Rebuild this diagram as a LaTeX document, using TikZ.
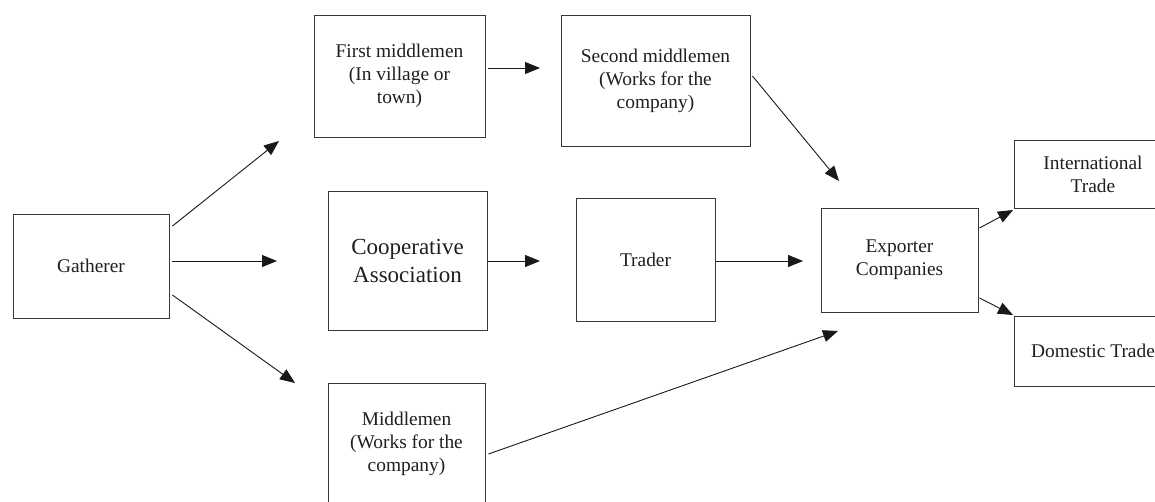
\documentclass[tikz,border=0pt]{standalone}
\usepackage{fontspec}
\setmainfont{Liberation Serif}
\usetikzlibrary{arrows.meta}
\begin{document}
\begin{tikzpicture}[x=1pt,y=-1pt,
  box/.style={draw=black!78,line width=0.9pt,align=center,text=black!88,
    font=\fontsize{19.4}{23}\selectfont,inner sep=0pt},
  bigbox/.style={box,font=\fontsize{23}{28}\selectfont},
  arr/.style={draw=black!90,line width=0.9pt,-{Triangle[length=15pt,width=12pt]}}]
\useasboundingbox (0,0) rectangle (1155,501);
\clip (0,0) rectangle (1155,501);
\fill[white] (0,0) rectangle (1155,501);
% boxes
\node[box,minimum width=156pt,minimum height=104pt] (gath) at (91,266) {Gatherer};
\node[box,minimum width=171pt,minimum height=122pt] (fm) at (399.5,76) {First middlemen\\(In village or\\town)};
\node[box,minimum width=189pt,minimum height=131pt] (sm) at (655.5,80.5) {Second middlemen\\(Works for the\\company)};
\node[bigbox,minimum width=159pt,minimum height=139pt] (coop) at (407.5,260.5) {Cooperative\\Association};
\node[box,minimum width=139pt,minimum height=123pt] (trader) at (645.5,259.5) {Trader};
\node[box,minimum width=157pt,minimum height=122pt] (mid) at (406.5,444) {Middlemen\\(Works for the\\company)};
\node[box,minimum width=157pt,minimum height=104pt] (exp) at (899.5,260) {Exporter\\Companies};
\node[box,minimum width=158pt,minimum height=68pt] (intl) at (1093,174) {International\\Trade};
\node[box,minimum width=158pt,minimum height=70pt] (dom) at (1093,351) {Domestic Trade};
% arrow tips
\coordinate (t1) at (279,141);
\coordinate (t2) at (277,261);
\coordinate (t3) at (295,383);
\coordinate (t4) at (540,68);
\coordinate (t5) at (540,261);
\coordinate (t6) at (839,181);
\coordinate (t7) at (803,261);
\coordinate (t8) at (838,331);
\coordinate (t9) at (1013,210);
\coordinate (t10) at (1013,315);
% connectors
\draw[arr] ([xshift=3pt,yshift=40pt]gath.east) -- (t1);
\draw[arr] ([xshift=3pt,yshift=5pt]gath.east) -- (t2);
\draw[arr] ([xshift=3pt,yshift=-29pt]gath.east) -- (t3);
\draw[arr] ([xshift=3pt,yshift=8pt]fm.east) -- (t4);
\draw[arr] ([xshift=1pt,yshift=-0.5pt]coop.east) -- (t5);
\draw[arr] ([xshift=2pt,yshift=4.5pt]sm.east) -- (t6);
\draw[arr] ([xshift=1pt,yshift=-1.5pt]trader.east) -- (t7);
\draw[arr] ([xshift=3pt,yshift=-10pt]mid.east) -- (t8);
\draw[arr] ([xshift=1pt,yshift=32pt]exp.east) -- (t9);
\draw[arr] ([xshift=1pt,yshift=-38pt]exp.east) -- (t10);
\end{tikzpicture}
\end{document}
